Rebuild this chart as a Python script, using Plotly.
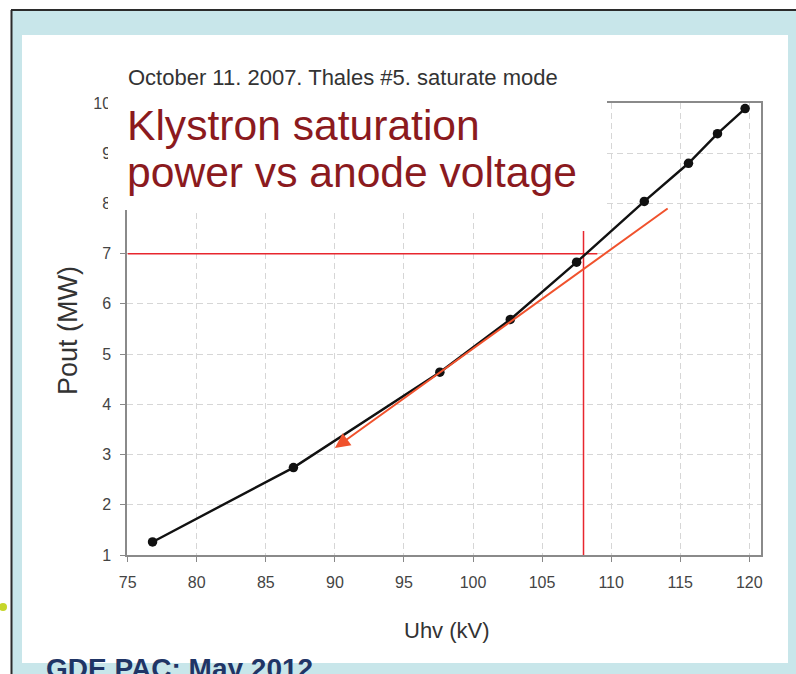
import plotly.graph_objects as go

# ---------------- data ----------------
uhv_kv = [76.8, 87.0, 97.6, 102.7, 107.5, 112.4, 115.6, 117.7, 119.7]
pout_mw = [1.26, 2.74, 4.64, 5.69, 6.83, 8.04, 8.80, 9.39, 9.89]

x_ticks = [75, 80, 85, 90, 95, 100, 105, 110, 115, 120]
y_ticks = [1, 2, 3, 4, 5, 6, 7, 8, 9, 10]

# operating point crosshair (108 kV -> 7 MW)
cross_h_x = [75.0, 109.0]
cross_h_y = [7.0, 7.0]
cross_v_x = [108.0, 108.0]
cross_v_y = [1.0, 7.45]

# tangent arrow (start -> tip)
tangent_x = [114.2, 90.0]
tangent_y = [7.92, 3.13]

subtitle = "October 11. 2007. Thales #5. saturate mode"
title_lines = ["Klystron saturation", "power vs anode voltage"]
footer = "GDE PAC: May 2012"
x_title = "Uhv (kV)"
y_title = "Pout (MW)"

# ---------------- layout geometry ----------------
W, H = 796, 674
L, R, T, B = 127, 35, 103, 119
PW, PH = W - L - R, H - T - B


def px(x):
    return (x - L) / PW


def py(y):
    return (H - B - y) / PH


FONT = "Liberation Sans, Arial, sans-serif"

fig = go.Figure()

fig.add_trace(go.Scatter(x=cross_h_x, y=cross_h_y, mode="lines",
                         line=dict(color="#e8262e", width=1.5),
                         hoverinfo="skip", showlegend=False))
fig.add_trace(go.Scatter(x=cross_v_x, y=cross_v_y, mode="lines",
                         line=dict(color="#e8262e", width=1.5),
                         hoverinfo="skip", showlegend=False))
fig.add_trace(go.Scatter(x=uhv_kv, y=pout_mw, mode="lines+markers",
                         line=dict(color="#111111", width=2.4),
                         marker=dict(color="#111111", size=9.5),
                         showlegend=False))

shapes = [
    # light blue slide frame
    dict(type="rect", xref="paper", yref="paper", layer="below",
         x0=px(12), x1=px(W + 5), y0=py(10), y1=py(H + 5),
         fillcolor="#c8e6ea", line=dict(width=0)),
    # white slide content area
    dict(type="rect", xref="paper", yref="paper", layer="below",
         x0=px(22), x1=px(788), y0=py(35), y1=py(663),
         fillcolor="#ffffff", line=dict(width=0)),
    # dark border lines of slide
    dict(type="line", xref="paper", yref="paper", layer="below",
         x0=px(11), x1=px(W + 5), y0=py(10), y1=py(10),
         line=dict(color="#2b2b2b", width=2)),
    dict(type="line", xref="paper", yref="paper", layer="below",
         x0=px(11.5), x1=px(11.5), y0=py(10), y1=py(H + 5),
         line=dict(color="#2b2b2b", width=2)),
    # small bullet dot at left edge
    dict(type="circle", xref="paper", yref="paper", layer="below",
         x0=px(-1), x1=px(7), y0=py(603), y1=py(611),
         fillcolor="#c6d62a", line=dict(width=0)),
    # white box behind the big title (covers part of the chart)
    dict(type="rect", xref="paper", yref="paper", layer="above",
         x0=px(108), x1=px(607), y0=py(93), y1=py(210),
         fillcolor="#ffffff", line=dict(width=0)),
]

annotations = [
    dict(xref="paper", yref="paper", x=px(126), y=py(77.7),
         xanchor="left", yanchor="middle", showarrow=False,
         text=subtitle, font=dict(family=FONT, size=22, color="#333333")),
    dict(xref="paper", yref="paper", x=px(125), y=py(125.2),
         xanchor="left", yanchor="middle", showarrow=False,
         text=title_lines[0], font=dict(family=FONT, size=42.6, color="#8b1a1e")),
    dict(xref="paper", yref="paper", x=px(125), y=py(172.2),
         xanchor="left", yanchor="middle", showarrow=False,
         text=title_lines[1], font=dict(family=FONT, size=42.6, color="#8b1a1e")),
    dict(xref="paper", yref="paper", x=px(44), y=py(668),
         xanchor="left", yanchor="middle", showarrow=False,
         text="<b>" + footer + "</b>",
         font=dict(family=FONT, size=28, color="#1f3566")),
    dict(xref="paper", yref="paper", x=px(447), y=py(630),
         xanchor="center", yanchor="middle", showarrow=False,
         text=x_title, font=dict(family=FONT, size=22, color="#333333")),
    dict(xref="paper", yref="paper", x=px(68), y=py(331),
         xanchor="center", yanchor="middle", showarrow=False, textangle=-90,
         text=y_title, font=dict(family=FONT, size=27, color="#333333")),
    # tangent arrow
    dict(xref="x", yref="y", axref="x", ayref="y",
         x=tangent_x[1], y=tangent_y[1], ax=tangent_x[0], ay=tangent_y[0],
         text="", showarrow=True, arrowhead=2, arrowsize=1.5, arrowwidth=2,
         arrowcolor="#f0522d", standoff=0, startstandoff=0),
]

axis_common = dict(
    ticks="outside", ticklen=5, tickcolor="#888888", tickwidth=1,
    showline=True, mirror=True, linecolor="#8a8a8a", linewidth=1.5,
    showgrid=True, gridcolor="#d6d6d6", gridwidth=1, griddash="6px,4px",
    zeroline=False, tickfont=dict(family=FONT, size=16, color="#444444"),
)

fig.update_xaxes(range=[74.95, 120.85], tickvals=x_ticks,
                 ticktext=[str(v) for v in x_ticks], ticklabelstandoff=7,
                 **axis_common)
fig.update_yaxes(range=[1, 10], tickvals=y_ticks,
                 ticktext=[str(v) for v in y_ticks], ticklabelstandoff=6,
                 **axis_common)

fig.update_layout(
    width=W, height=H, autosize=False,
    margin=dict(l=L, r=R, t=T, b=B, pad=0),
    paper_bgcolor="#ffffff", plot_bgcolor="#ffffff",
    font=dict(family=FONT),
    shapes=shapes, annotations=annotations,
    showlegend=False,
)

fig.write_html(
    "out.html",
    config={"displayModeBar": False},
    post_script="document.body.style.margin='0';document.body.style.padding='0';"
                "document.documentElement.style.overflow='hidden';",
)
